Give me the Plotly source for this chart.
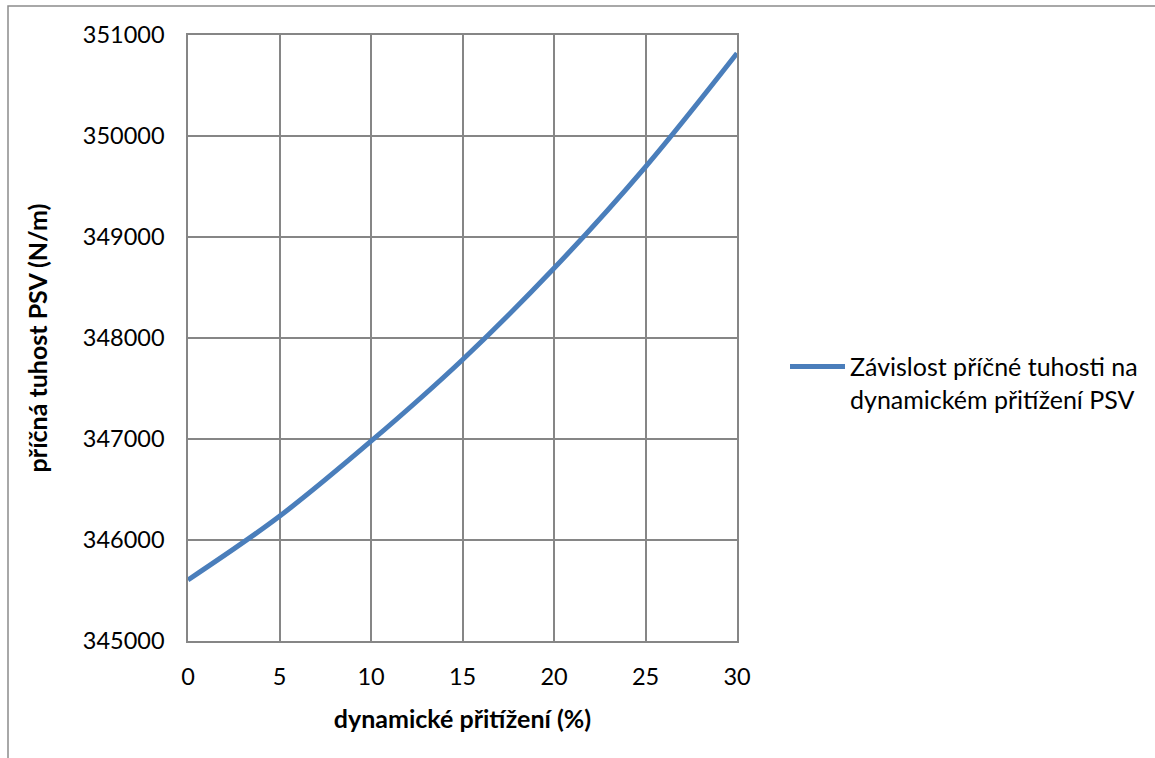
import plotly.graph_objects as go

# dynamic overload (%) and the resulting lateral stiffness (N/m)
pretizeni = [0, 5, 10, 15, 20, 25, 30]
tuhost = [345605, 346235, 346978, 347785, 348690, 349695, 350820]

x_ticks = [0, 5, 10, 15, 20, 25, 30]
y_ticks = [345000, 346000, 347000, 348000, 349000, 350000, 351000]

nazev_rady = "Závislost příčné tuhosti na<br>dynamickém přitížení PSV"

FONT = "Lato, 'Open Sans', sans-serif"
GRID = "#868686"
BLUE = "#4A7EBB"

fig = go.Figure()
fig.add_trace(go.Scatter(
    x=pretizeni,
    y=tuhost,
    mode="lines",
    line=dict(color=BLUE, width=5, shape="spline", smoothing=1.0),
    name=nazev_rady,
))

fig.update_layout(
    width=1155,
    height=758,
    margin=dict(l=188, r=418, t=35, b=117),
    paper_bgcolor="white",
    plot_bgcolor="white",
    font=dict(family=FONT, size=23.5, color="black"),
    showlegend=True,
    legend=dict(
        x=1.0 + (785 - 737) / 549,
        y=0.426,
        xanchor="left",
        yanchor="middle",
        valign="top",
        itemwidth=55,
        font=dict(family=FONT, size=25, color="black"),
        bgcolor="rgba(0,0,0,0)",
    ),
    xaxis=dict(
        range=[0, 30],
        tickvals=x_ticks,
        ticktext=[str(v) for v in x_ticks],
        showgrid=True,
        gridcolor=GRID,
        gridwidth=1.5,
        showline=True,
        linecolor=GRID,
        linewidth=1.5,
        mirror=True,
        ticks="",
        zeroline=False,
        ticklabelstandoff=14,
        title=dict(
            text="<b>dynamické přitížení (%)</b>",
            font=dict(family=FONT, size=25),
            standoff=22,
        ),
    ),
    yaxis=dict(
        range=[345000, 351000],
        tickvals=y_ticks,
        ticktext=[str(v) for v in y_ticks],
        showgrid=True,
        gridcolor=GRID,
        gridwidth=1.5,
        showline=True,
        linecolor=GRID,
        linewidth=1.5,
        mirror=True,
        ticks="",
        zeroline=False,
        ticklabelstandoff=17,
        title=dict(
            text="<b>příčná tuhost PSV (N/m)</b>",
            font=dict(family=FONT, size=25),
            standoff=28,
        ),
    ),
    shapes=[
        # chart-area frame (left and top edges visible)
        dict(
            type="rect",
            xref="paper", yref="paper",
            x0=(8 - 188) / 549, x1=(1170 - 188) / 549,
            y0=(641 - 770) / 606, y1=(641 - 6) / 606,
            line=dict(color="#8C8C8C", width=1.5),
            fillcolor="rgba(0,0,0,0)",
            layer="below",
        ),
    ],
)

fig.write_html("out.html")
